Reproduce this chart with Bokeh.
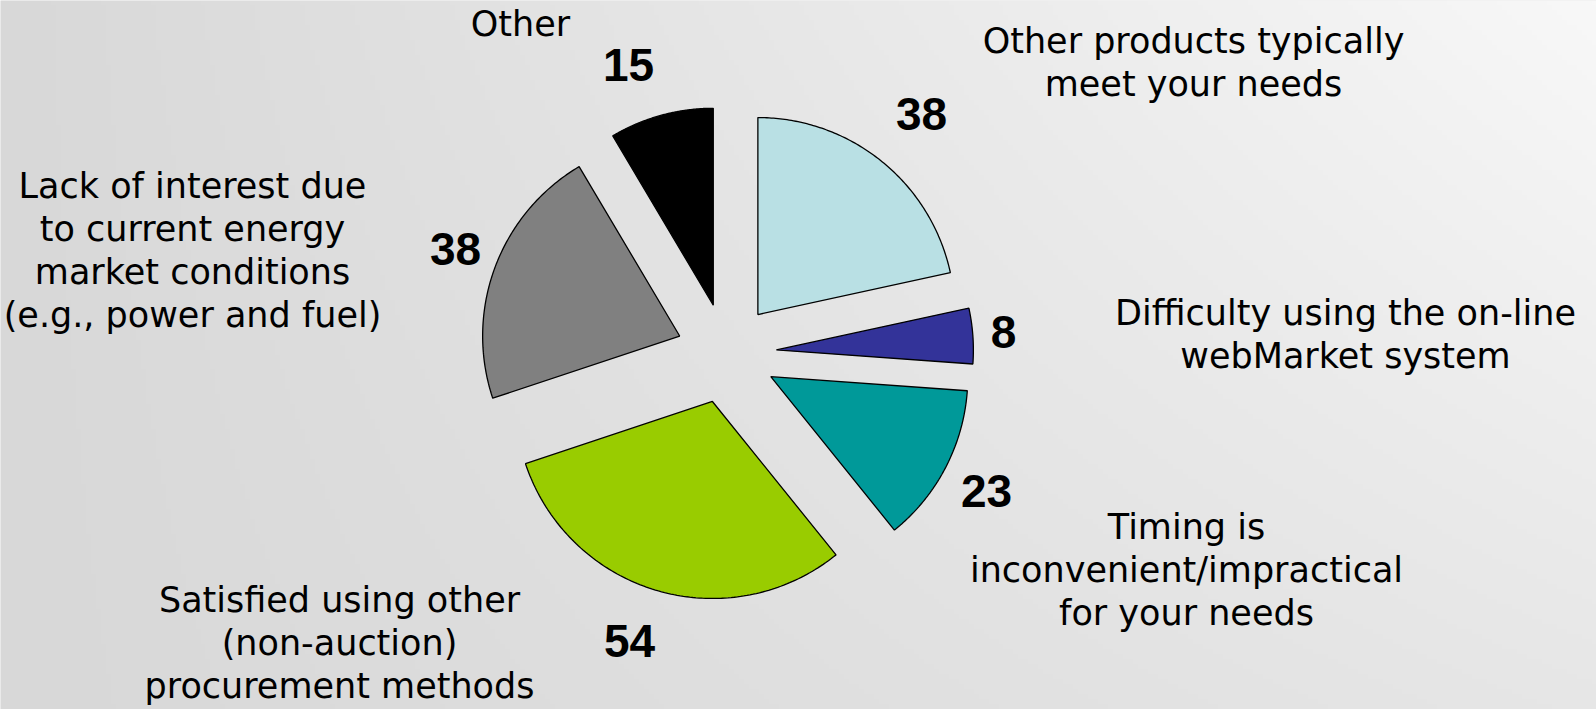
import numpy as np
from bokeh.plotting import figure
from bokeh.models import Range1d, ColumnDataSource
from bokeh.core.properties import value
from bokeh.embed import file_html
from bokeh.resources import INLINE

# ---------------- data ----------------
categories = [
    "Other products typically\nmeet your needs",
    "Difficulty using the on-line\nwebMarket system",
    "Timing is\ninconvenient/impractical\nfor your needs",
    "Satisfied using other\n(non-auction)\nprocurement methods",
    "Lack of interest due\nto current energy\nmarket conditions\n(e.g., power and fuel)",
    "Other",
]
counts = [38, 8, 23, 54, 38, 15]

# ---------------- style / layout ----------------
colors = ["#B9E0E4", "#333399", "#009999", "#99CC00", "#808080", "#000000"]
W, H = 1596, 709
CX, CY = 726, 353          # pie centre (pixels)
R = 197                    # pie radius
EXPLODE = 50               # explosion distance
value_label_xy = [(921, 113), (1003, 331), (986, 490), (629, 640), (455, 248), (628, 64)]
cat_label_x = [1193, 1345, 1186, 339, 192, 520]
cat_label_first_baseline = [53, 325, 539, 612, 198, 36]
LINE_STEP = 43
CAT_FS = 35
VAL_FS = 46

p = figure(width=W, height=H, x_range=Range1d(0, W), y_range=Range1d(H, 0),
           output_backend="svg", toolbar_location=None, min_border=0)
p.axis.visible = False
p.grid.visible = False
p.outline_line_color = None
p.background_fill_color = "#E4E4E4"
p.border_fill_color = "#E4E4E4"

# background gradient (decorative)
nx, ny = 320, 142
gx = np.linspace(0, 1, nx)[None, :]
gy = np.linspace(0, 1, ny)[:, None]
v = (216 + 32 * gx * (1 - 0.55 * gy)).astype(np.uint8)
img = np.empty((ny, nx), dtype=np.uint32)
view = img.view(dtype=np.uint8).reshape((ny, nx, 4))
view[..., 0] = v
view[..., 1] = v
view[..., 2] = v
view[..., 3] = 255
p.image_rgba(image=[img], x=0, y=0, dw=W, dh=H)

# exploded pie slices
total = float(sum(counts))
cum = np.cumsum([0] + counts)
xs, ys = [], []
for i, c in enumerate(counts):
    a0 = cum[i] / total * 2 * np.pi
    a1 = cum[i + 1] / total * 2 * np.pi
    am = (a0 + a1) / 2
    ax = CX + EXPLODE * np.sin(am)
    ay = CY - EXPLODE * np.cos(am)
    t = np.linspace(a0, a1, 120)
    xs.append(np.concatenate([[ax], ax + R * np.sin(t)]).tolist())
    ys.append(np.concatenate([[ay], ay - R * np.cos(t)]).tolist())
p.patches(xs, ys, fill_color=colors, line_color="black", line_width=1.3)

# value labels
vsrc = ColumnDataSource(dict(
    x=[xy[0] for xy in value_label_xy],
    y=[xy[1] for xy in value_label_xy],
    t=[str(c) for c in counts]))
p.text(x="x", y="y", text="t", source=vsrc, text_font=value("Liberation Sans"),
       text_font_style="bold", text_font_size=f"{VAL_FS}px", text_align="center",
       text_baseline="middle", text_color="black")

# category labels
lx, ly, lt = [], [], []
for cat, x0, b0 in zip(categories, cat_label_x, cat_label_first_baseline):
    for k, line in enumerate(cat.split("\n")):
        lx.append(x0)
        ly.append(b0 + k * LINE_STEP - 0.346 * CAT_FS)
        lt.append(line)
csrc = ColumnDataSource(dict(x=lx, y=ly, t=lt))
p.text(x="x", y="y", text="t", source=csrc, text_font=value("DejaVu Sans"),
       text_font_size=f"{CAT_FS}px", text_align="center", text_baseline="middle",
       text_color="black")

open("out.html", "w").write(file_html(p, INLINE))
